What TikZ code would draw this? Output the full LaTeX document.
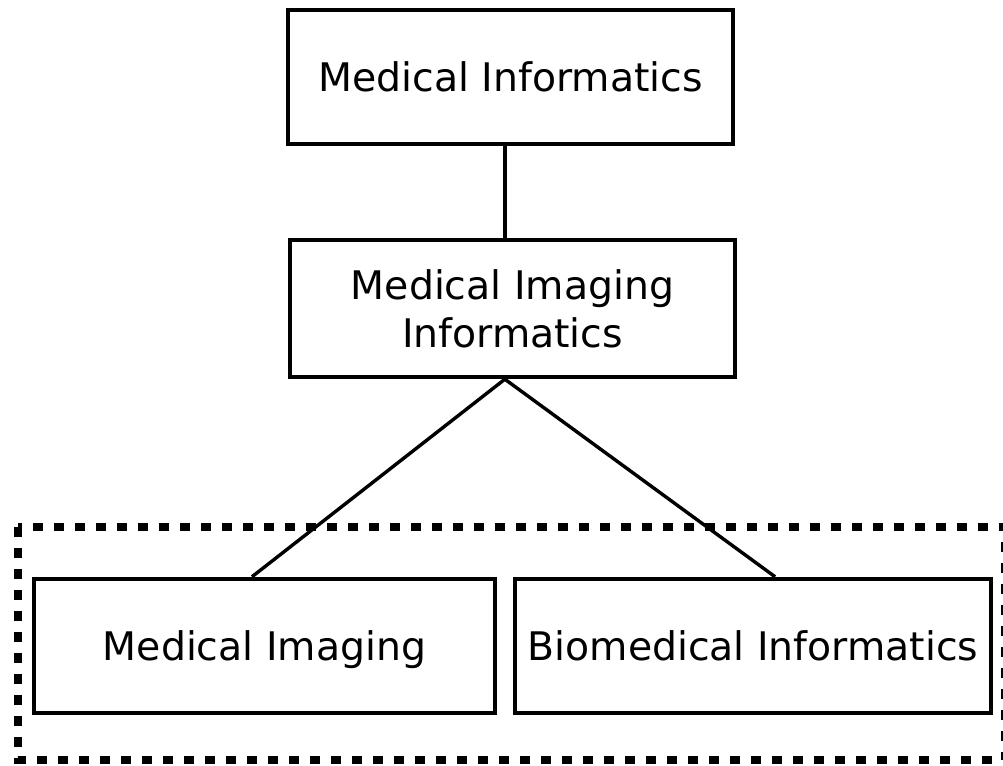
\documentclass[tikz,border=0pt]{standalone}
\usepackage{fontspec}
\setmainfont{DejaVu Sans}
\usetikzlibrary{calc}

\begin{document}
\begin{tikzpicture}[%
		x = 0.25mm, y = -0.25mm, % one unit = one pixel
		box/.style = {draw = black, line width = 1.1mm, inner sep = 0pt,
			minimum height = 33.5mm, align = center,
			font = \fontsize{28}{34}\selectfont},
		oneline/.style = {box, text height = 20.4pt, text depth = 0pt},
		link/.style = {draw = black, line width = 0.85mm},
		group/.style = {draw = black, line width = 2.1mm,
			dash pattern = on 2.5mm off 2.75mm}
		]
		
		\useasboundingbox (0,0) rectangle (1003,766);
		
		\node[oneline, minimum width = 111.25mm] (mi) at (510.5,77) {Medical Informatics};
		\node[box, minimum width = 111.25mm, minimum height = 34.25mm] (mii) at (512.5,308.5) {Medical Imaging\\ Informatics};
		\node[oneline, minimum width = 115.25mm] (mimg) at (264.5,646) {Medical Imaging};
		\node[oneline, minimum width = 119mm] (bmi) at (753,646) {Biomedical Informatics};
		
		% Dotted group
		\draw[group] (18,527) rectangle (1005,760);
		
		% Tree
		\coordinate (apex) at ($(mii.south west)!0.483!(mii.south east)$);
		\draw[link] (mi.south -| apex) -- (mii.north -| apex);
		\draw[link] (apex) -- ($(mimg.north west)!0.473!(mimg.north east)$);
		\draw[link] (apex) -- ($(bmi.north west)!0.546!(bmi.north east)$);
		\end{tikzpicture}
\end{document}
